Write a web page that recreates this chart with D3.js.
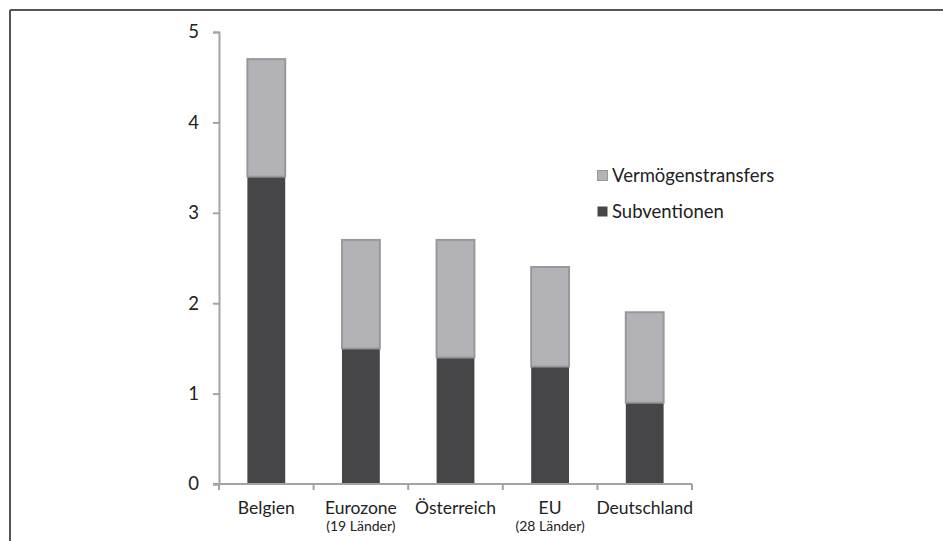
<!DOCTYPE html>
<html>
<head>
<meta charset="utf-8">
<script src="https://cdn.jsdelivr.net/npm/d3@7"></script>
<style>
  html, body { margin: 0; padding: 0; background: #fff; }
  svg { display: block; }
  text { font-family: Lato, "Open Sans", sans-serif; fill: #222; }
</style>
</head>
<body>
<svg id="chart" width="943" height="541"></svg>
<script>
// Subsidies and capital transfers, % of GDP
const categories = ["Belgien", "Eurozone", "Österreich", "EU", "Deutschland"];
const subLabels = ["", "(19 Länder)", "", "(28 Länder)", ""];
const subventionen = [3.4, 1.5, 1.4, 1.3, 0.9];
const vermoegenstransfers = [1.3, 1.2, 1.3, 1.1, 1.0];
const yTicks = [0, 1, 2, 3, 4, 5];
const seriesNames = ["Vermögenstransfers", "Subventionen"];

const svg = d3.select("#chart");
const margin = { left: 219, right: 251, top: 32, bottom: 57 };
const W = 943, H = 541;

// Frame lines (top and left)
svg.append("line").attr("x1", 10).attr("x2", W).attr("y1", 10).attr("y2", 10)
  .attr("stroke", "#555").attr("stroke-width", 2);
svg.append("line").attr("x1", 10).attr("x2", 10).attr("y1", 10).attr("y2", H)
  .attr("stroke", "#555").attr("stroke-width", 2);

const x = d3.scaleBand().domain(categories)
  .range([margin.left, W - margin.right]).paddingInner(0.6).paddingOuter(0.3);
const y = d3.scaleLinear().domain([0, 5]).range([H - margin.bottom, margin.top]);

const axisColor = "#a3a3a7";

// Y axis
const yAxis = svg.append("g").attr("transform", `translate(${margin.left},0)`)
  .call(d3.axisLeft(y).tickValues(yTicks).tickSize(6).tickPadding(14).tickFormat(d3.format("d")));
yAxis.select(".domain").attr("stroke", axisColor).attr("stroke-width", 2);
yAxis.selectAll(".tick line").attr("stroke", axisColor).attr("stroke-width", 2);
yAxis.selectAll(".tick text").style("font-size", "18.5px").attr("fill", "#222");

// Stacked bars
const data = categories.map((c, i) => ({ c, sub: subventionen[i], ver: vermoegenstransfers[i] }));
const g = svg.append("g");
g.selectAll("rect.sub").data(data).join("rect").attr("class", "sub")
  .attr("x", d => x(d.c)).attr("width", x.bandwidth())
  .attr("y", d => y(d.sub)).attr("height", d => y(0) - y(d.sub))
  .attr("fill", "#464648");
g.selectAll("rect.ver").data(data).join("rect").attr("class", "ver")
  .attr("x", d => x(d.c)).attr("width", x.bandwidth())
  .attr("y", d => y(d.sub + d.ver)).attr("height", d => y(d.sub) - y(d.sub + d.ver))
  .attr("fill", "#b3b3b7").attr("stroke", "#98989c").attr("stroke-width", 2);

// X axis with category boundary ticks
const xAxisG = svg.append("g").attr("transform", `translate(0,${y(0)})`);
xAxisG.append("line").attr("x1", margin.left - 6).attr("x2", W - margin.right)
  .attr("stroke", axisColor).attr("stroke-width", 2);
const step = x.step();
const boundaries = d3.range(categories.length + 1).map(i => margin.left + i * step);
xAxisG.selectAll("line.tk").data(boundaries).join("line").attr("class", "tk")
  .attr("x1", d => d).attr("x2", d => d).attr("y1", 0).attr("y2", 6)
  .attr("stroke", axisColor).attr("stroke-width", 2);
xAxisG.selectAll("text.cat").data(categories).join("text").attr("class", "cat")
  .attr("x", d => x(d) + x.bandwidth() / 2).attr("y", 30)
  .attr("text-anchor", "middle").style("font-size", "17.5px").text(d => d);
xAxisG.selectAll("text.subl").data(subLabels).join("text").attr("class", "subl")
  .attr("x", (d, i) => x(categories[i]) + x.bandwidth() / 2).attr("y", 47)
  .attr("text-anchor", "middle").style("font-size", "14px").text(d => d);

// Legend
const legendColors = ["#b3b3b7", "#464648"];
const legend = svg.append("g").attr("transform", "translate(597,170)");
seriesNames.forEach((name, i) => {
  const row = legend.append("g").attr("transform", `translate(0,${i * 36})`);
  row.append("rect").attr("x", 0.5).attr("y", 0.5).attr("width", 10).attr("height", 10)
    .attr("fill", legendColors[i]).attr("stroke", i === 0 ? "#98989c" : "none").attr("stroke-width", 1);
  row.append("text").attr("x", 15).attr("y", 12).style("font-size", "18.5px").text(name);
});
</script>
</body>
</html>
